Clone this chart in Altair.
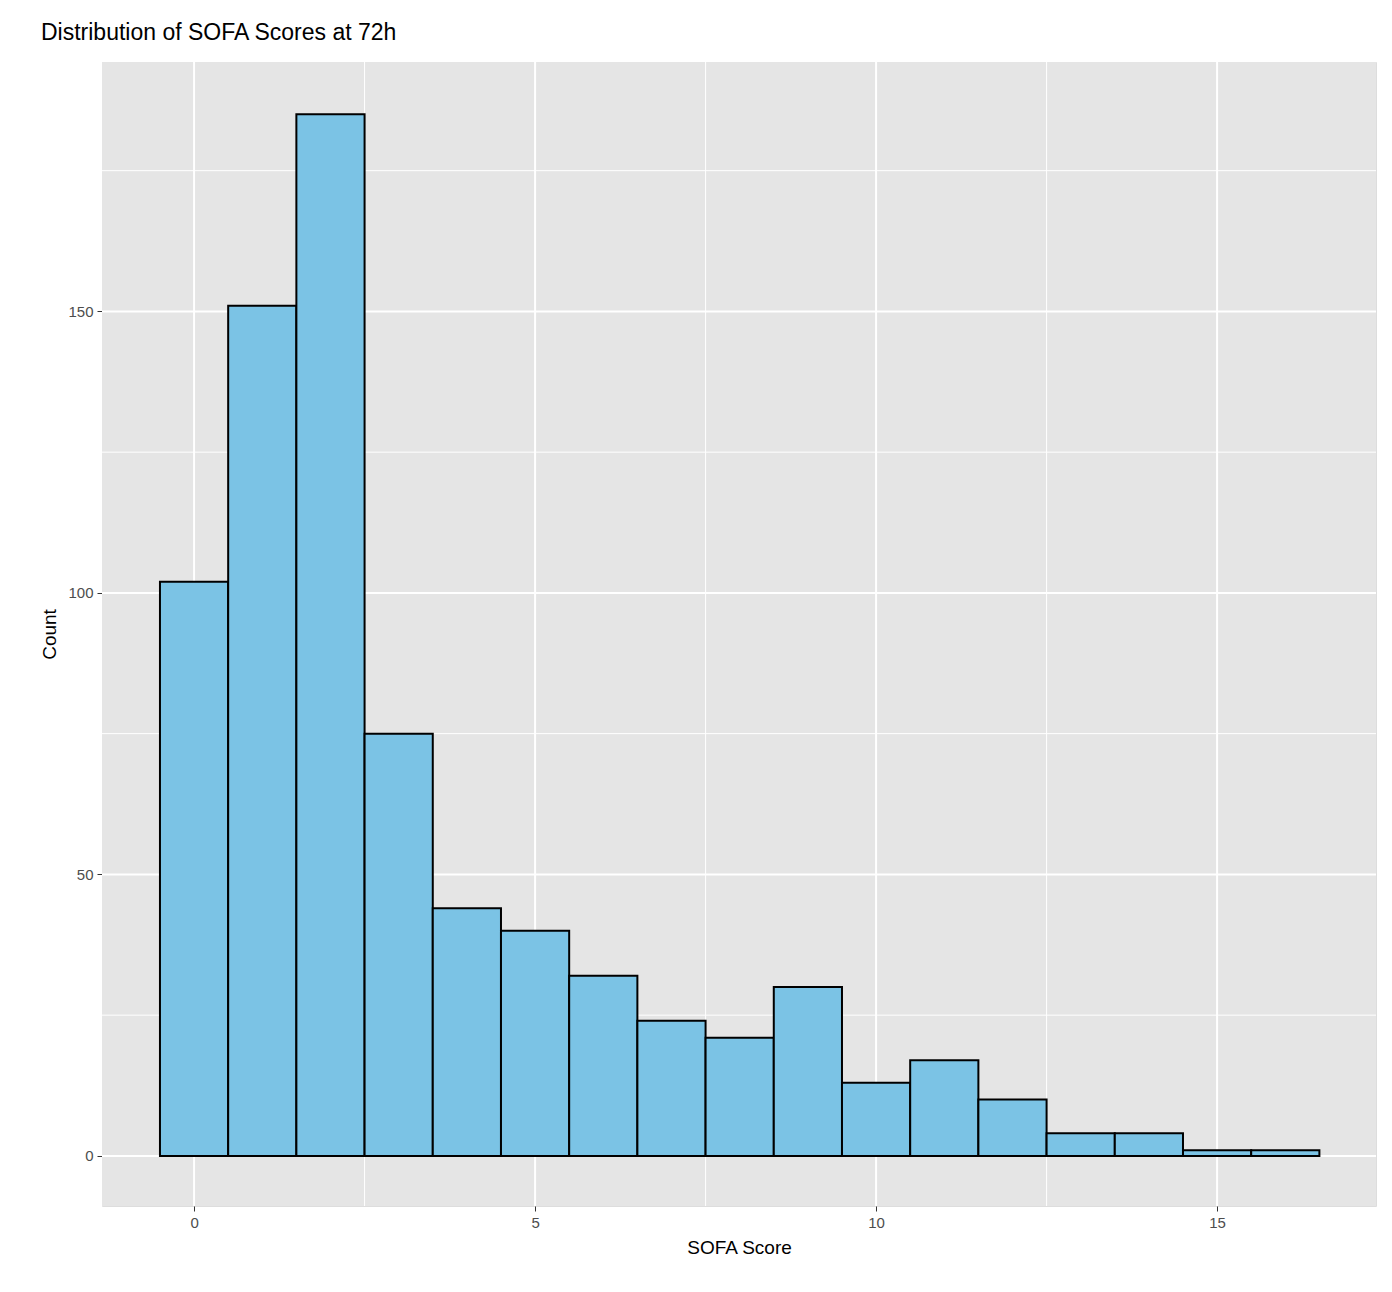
import pandas as pd
import altair as alt

scores = list(range(17))
counts = [102, 151, 185, 75, 44, 40, 32, 24, 21, 30, 13, 17, 10, 4, 4, 1, 1]

x_major = [0, 5, 10, 15]
x_minor = [2.5, 7.5, 12.5]
y_major = [0, 50, 100, 150]
y_minor = [25, 75, 125, 175]

df = pd.DataFrame({"score": scores, "count": counts})
df["lo"] = df["score"] - 0.5
df["hi"] = df["score"] + 0.5

xs = alt.Scale(domain=[-1.35, 17.33], nice=False, zero=False)
ys = alt.Scale(domain=[-8.9, 194.3], nice=False, zero=False)

bg = alt.Chart(pd.DataFrame({"a": [0]})).mark_rect(color="#E5E5E5").encode(
    x=alt.value(0), x2=alt.value(1274), y=alt.value(0), y2=alt.value(1144))

def vrules(vals, w):
    return alt.Chart(pd.DataFrame({"v": vals})).mark_rule(color="white", strokeWidth=w).encode(
        x=alt.X("v:Q", scale=xs, title="SOFA Score", axis=alt.Axis(values=x_major, format="d")))

def hrules(vals, w):
    return alt.Chart(pd.DataFrame({"v": vals})).mark_rule(color="white", strokeWidth=w).encode(
        y=alt.Y("v:Q", scale=ys, title="Count", axis=alt.Axis(values=y_major, format="d")))

bars = alt.Chart(df).mark_rect(fill="#7BC3E5", stroke="black", strokeWidth=2).encode(
    x=alt.X("lo:Q", scale=xs, title="SOFA Score", axis=alt.Axis(values=x_major, format="d")),
    x2="hi:Q",
    y=alt.Y("count:Q", scale=ys, title="Count", axis=alt.Axis(values=y_major, format="d")),
    y2=alt.datum(0),
)

chart = alt.layer(
    bg, vrules(x_minor, 1), hrules(y_minor, 1), vrules(x_major, 2), hrules(y_major, 2), bars
).properties(
    width=1274, height=1144,
    title=alt.TitleParams("Distribution of SOFA Scores at 72h", anchor="start",
                          fontSize=23, fontWeight="normal", color="black", offset=16),
    autosize=alt.AutoSizeParams(type="none"),
    padding={"left": 94, "top": 54, "right": 8, "bottom": 78},
).configure_view(stroke=None).configure(font="Liberation Sans").configure_axis(
    grid=False, domain=False, tickColor="#333333", tickSize=5, labelFontSize=15,
    labelColor="#4D4D4D", titleFontSize=19, titleFontWeight="normal", titleColor="black",
    labelPadding=4, titlePadding=8,
)

chart.save("out.html", embed_options={"renderer": "svg", "actions": False})
